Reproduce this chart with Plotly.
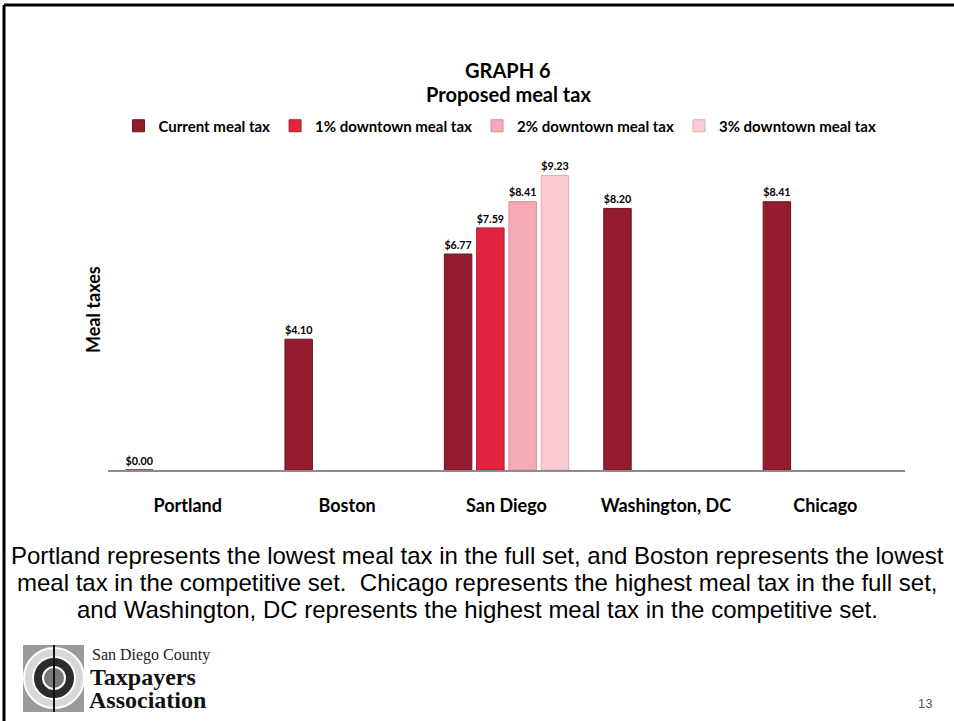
"""Graph 6 - proposed meal tax, rebuilt as a Plotly slide."""

import plotly.graph_objects as go

# ---- data ----
cities = ["Portland", "Boston", "San Diego", "Washington, DC", "Chicago"]
current_tax = [0.00, 4.10, 6.77, 8.20, 8.41]
downtown_1pct = [None, None, 7.59, None, None]
downtown_2pct = [None, None, 8.41, None, None]
downtown_3pct = [None, None, 9.23, None, None]

series_names = [
    "Current meal tax",
    "1% downtown meal tax",
    "2% downtown meal tax",
    "3% downtown meal tax",
]
series_colors = ["#951B2E", "#E2253F", "#F5AAB5", "#FBCAD2"]
series_lines = ["#6E1321", "#B51A30", "#D98C97", "#E3AAB3"]

body_lines = [
    "Portland represents the lowest meal tax in the full set, and Boston represents the lowest",
    "meal tax in the competitive set.  Chicago represents the highest meal tax in the full set,",
    "and Washington, DC represents the highest meal tax in the competitive set.",
]

W, H = 954, 721
L, R, T, B = 108, 49, 151, 251  # plot margins in px

CHART_FONT = "Lato, Calibri, sans-serif"
BODY_FONT = "Liberation Sans, Arial, sans-serif"
LOGO_FONT = "Liberation Serif, Times New Roman, serif"


def px(x):
    # pixel x -> paper x
    return (x - L) / (W - L - R)


def py(y):
    # pixel y -> paper y
    return (H - B - y) / (H - T - B)


fig = go.Figure()
for name, vals, col, lcol in zip(
    series_names,
    [current_tax, downtown_1pct, downtown_2pct, downtown_3pct],
    series_colors,
    series_lines,
):
    fig.add_trace(go.Bar(
        x=cities, y=vals, name=name,
        marker=dict(color=col, line=dict(color=lcol, width=1)),
        texttemplate="$%{y:.2f}", textposition="outside",
        textfont=dict(family=CHART_FONT, size=14, color="black", weight="bold"),
        cliponaxis=False,
    ))


def note(x, y, text, xanchor="center", **kw):
    return dict(xref="paper", yref="paper", x=px(x), y=py(y), text=text,
                xanchor=xanchor, yanchor="middle", showarrow=False, **kw)


annotations = [
    note(508, 70, "<b>GRAPH 6</b>", font=dict(family=CHART_FONT, size=20, color="black")),
    note(508, 94, "<b>Proposed meal tax</b>", font=dict(family=CHART_FONT, size=20, color="black")),
    note(93, 310, "<b>Meal taxes</b>", textangle=-90,
         font=dict(family=CHART_FONT, size=18, color="black")),
    note(925, 703, "13", font=dict(family=BODY_FONT, size=13, color="#595959")),
    # logo text
    note(90, 655, "San Diego County", xanchor="left",
         font=dict(family=LOGO_FONT, size=16, color="#222")),
    note(88, 677, "<b>Taxpayers</b>", xanchor="left",
         font=dict(family=LOGO_FONT, size=24, color="#111")),
    note(87, 700, "<b>Association</b>", xanchor="left",
         font=dict(family=LOGO_FONT, size=24, color="#111")),
]
for i, line in enumerate(body_lines):
    annotations.append(note(477, 555 + 27 * i, line,
                            font=dict(family=BODY_FONT, size=24, color="black")))

shapes = [
    # slide border (top + left)
    dict(type="line", xref="paper", yref="paper", x0=px(4), x1=px(954), y0=py(5), y1=py(5),
         line=dict(color="black", width=3)),
    dict(type="line", xref="paper", yref="paper", x0=px(4), x1=px(4), y0=py(5), y1=py(721),
         line=dict(color="black", width=3)),
    # logo mark
    dict(type="rect", xref="paper", yref="paper", x0=px(23), x1=px(84), y0=py(645), y1=py(712),
         fillcolor="#9a9a9a", line=dict(width=0)),
    dict(type="circle", xref="paper", yref="paper", x0=px(24), x1=px(84), y0=py(648), y1=py(708),
         fillcolor="#d8d8d8", line=dict(color="white", width=2)),
    dict(type="circle", xref="paper", yref="paper", x0=px(33), x1=px(75), y0=py(657), y1=py(699),
         fillcolor="#2b2b2b", line=dict(color="white", width=2)),
    dict(type="circle", xref="paper", yref="paper", x0=px(43), x1=px(65), y0=py(667), y1=py(689),
         fillcolor="#777", line=dict(color="white", width=2)),
    dict(type="line", xref="paper", yref="paper", x0=px(54), x1=px(54), y0=py(645), y1=py(712),
         line=dict(color="#111", width=2)),
]

fig.update_layout(
    width=W, height=H,
    margin=dict(l=L, r=R, t=T, b=B),
    paper_bgcolor="white", plot_bgcolor="white",
    barmode="group", bargap=0.19, bargroupgap=0.15,
    showlegend=True,
    legend=dict(
        orientation="h", x=px(500), y=py(126), xanchor="center", yanchor="middle",
        font=dict(family=CHART_FONT, size=15, color="black", weight="bold"),
        itemwidth=30, tracegroupgap=0, bgcolor="rgba(0,0,0,0)",
    ),
    xaxis=dict(
        showline=True, linecolor="#8c8c8c", linewidth=2,
        ticks="", showgrid=False, zeroline=False,
        ticklabelstandoff=18,
        tickfont=dict(family=CHART_FONT, size=18, color="black", weight="bold"),
    ),
    yaxis=dict(
        range=[0, 10], showticklabels=False, showgrid=False, zeroline=False,
        showline=False, ticks="",
    ),
    annotations=annotations,
    shapes=shapes,
)

# drop the browser's default 8px body margin so the slide sits flush
fig.write_html("out.html", config={"displayModeBar": False},
               post_script="document.body.style.margin='0';")
